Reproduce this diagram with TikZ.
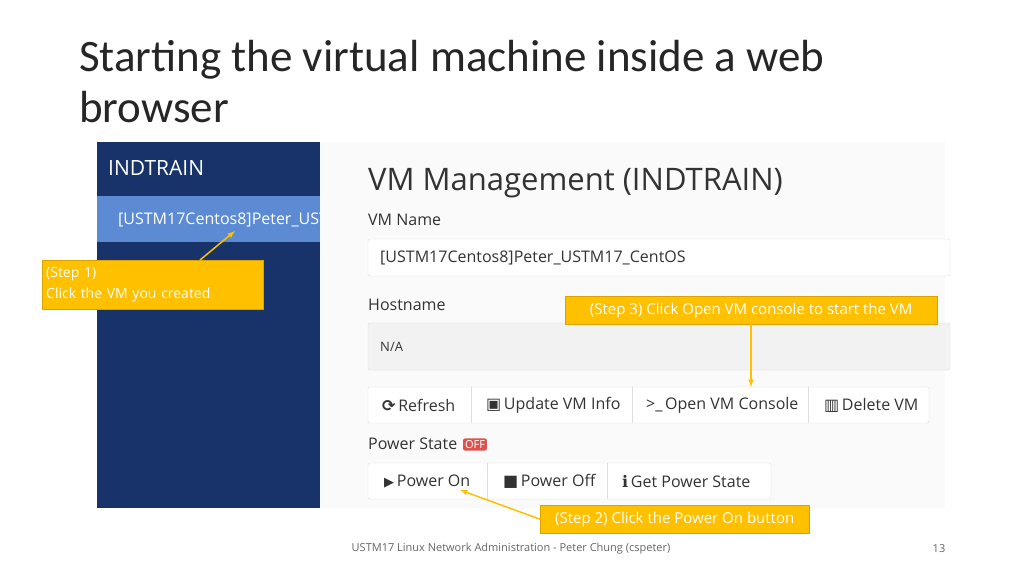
\documentclass[tikz,border=0pt]{standalone}
\usepackage{fontspec}
\setmainfont{Open Sans}
\newfontfamily\titlefont{Carlito}
\newfontfamily\symfont{DejaVu Sans}
\definecolor{navy}{HTML}{17336A}
\definecolor{rowblue}{HTML}{5C8BD3}
\definecolor{gold}{HTML}{FFC000}
\definecolor{goldline}{HTML}{D9A400}
\definecolor{panel}{HTML}{FAFAFA}
\definecolor{bline}{HTML}{DDDDDD}
\definecolor{txt}{HTML}{333333}
\definecolor{offred}{HTML}{D9534F}
\begin{document}
\begin{tikzpicture}[x=1pt,y=-1pt,
  callout/.style={draw=goldline,fill=gold,text=white,font=\fontsize{15}{21}\selectfont,inner sep=0pt},
  arr/.style={draw=gold,line width=1.5pt,-latex},
  lbl/.style={anchor=west,text=txt,inner sep=0pt,font=\fontsize{16}{19}\selectfont},
  btn/.style={draw=bline,fill=white,rounded corners=1.5pt,inner sep=0pt}]
\useasboundingbox (0,0) rectangle (1024,576);
\fill[white] (0,0) rectangle (1024,576);
% title
\node[anchor=north west,inner sep=0pt,align=left,font=\titlefont\fontsize{45}{51}\selectfont,text=black!85] (title) at (79,40) {Starting the virtual machine inside a web\\browser};
% sidebar
\fill[navy] (97,142) rectangle (320,508);
\fill[rowblue] (97,196) rectangle (320,242);
\node[anchor=west,text=white,inner sep=0pt,font=\fontsize{21}{24}\selectfont] (ind) at (108,168) {INDTRAIN};
\begin{scope}
\clip (97,196) rectangle (320,242);
\node[anchor=west,text=white,inner sep=0pt,font=\fontsize{16}{18}\selectfont] (vmrow) at (118,220) {[USTM17Centos8]Peter\_UST};
\end{scope}
\coordinate (rowpt) at (235,231);
% panel
\fill[panel] (320,142) rectangle (945,508);
\node[anchor=west,text=txt,inner sep=0pt,font=\fontsize{31}{34}\selectfont] (head) at (368,183) {VM Management (INDTRAIN)};
\node[lbl] (vmname) at (368,220) {VM Name};
\draw[bline,fill=white,rounded corners=2pt] (368,239) rectangle (950,276);
\node[lbl] (vmval) at (380,258) {[USTM17Centos8]Peter\_USTM17\_CentOS};
\node[lbl] (host) at (368,305) {Hostname};
\draw[bline,fill=black!5,rounded corners=2pt] (368,323) rectangle (950,370);
\node[lbl,font=\fontsize{13}{16}\selectfont] (na) at (380,347) {N/A};
% button row 1
\draw[btn] (368,387) rectangle (929,423);
\foreach \x in {471,632,808} \draw[bline] (\x,387) -- (\x,423);
\node[lbl] (refresh) at (382,405) {{\symfont\bfseries ⟳}\,Refresh};
\node[lbl] (update) at (486,405) {{\symfont ▣}\,Update VM Info};
\node[lbl] (console) at (646,405) {>\_\,Open VM Console};
\node[lbl] (delete) at (824,405) {{\symfont ▥}\,Delete VM};
\node[lbl] (pstate) at (368,444) {Power State};
\node[fill=offred,text=white,rounded corners=2pt,inner sep=2pt,font=\fontsize{11}{12}\selectfont] (off) at (475,444.5) {OFF};
% button row 2
\draw[btn] (368,463) rectangle (771,499);
\foreach \x in {487,607} \draw[bline] (\x,463) -- (\x,499);
\node[lbl] (pon) at (384,481) {{\symfont\fontsize{13}{15}\selectfont ▶}\,Power On};
\node[lbl] (poff) at (503,481) {{\symfont ■}\,Power Off};
\node[lbl] (gps) at (622,481) {{\symfont ℹ}\,Get Power State};
\coordinate (ponpt) at (460,490);
% callouts
\node[callout,minimum width=221pt,minimum height=49pt,align=left,anchor=north west,text width=213pt,inner xsep=4pt,font=\fontsize{14}{21}\selectfont] (s1) at (42,260) {(Step 1)\\Click the VM you created};
\node[callout,minimum width=372pt,minimum height=28pt,anchor=north west] (s3) at (565,296) {(Step 3) Click Open VM console to start the VM};
\node[callout,minimum width=269pt,minimum height=28pt,anchor=north west] (s2) at (540,505) {(Step 2) Click the Power On button};
\coordinate (conpt) at (751,387);
\draw[arr] (200,260) -- (rowpt);
\draw[arr] (751,324) -- (conpt);
\draw[arr] (s2.west) -- (ponpt);
% footer
\node[text=black!60,inner sep=0pt,font=\fontsize{11}{13}\selectfont] (foot) at (511,549) {USTM17 Linux Network Administration - Peter Chung (cspeter)};
\node[text=black!60,inner sep=0pt,font=\fontsize{11}{13}\selectfont] (pg) at (939,549) {13};
\end{tikzpicture}
\end{document}
